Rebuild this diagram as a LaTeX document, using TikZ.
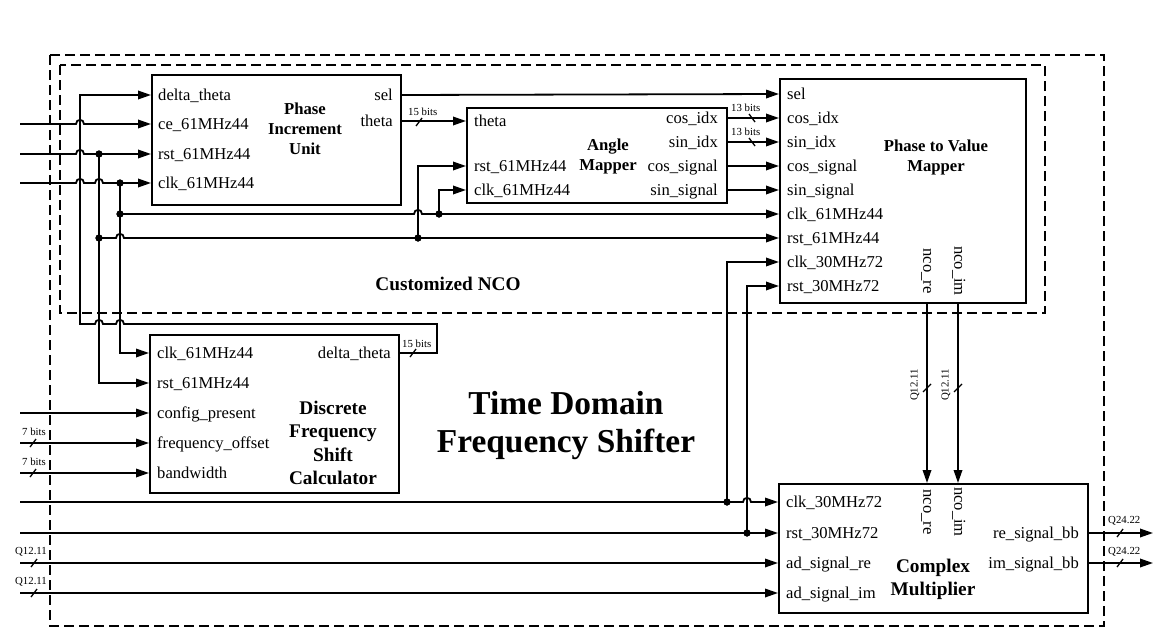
\documentclass[tikz,border=0pt]{standalone}
\usepackage{fontspec}
\setmainfont{Liberation Serif}
\usetikzlibrary{arrows.meta}
\begin{document}
\begin{tikzpicture}[x=1pt,y=-1pt,
  box/.style={draw, line width=2.1pt, anchor=north west, inner sep=0pt},
  sig/.style={line width=1.8pt, -{Triangle[length=13pt,width=8.5pt]}},
  wire/.style={line width=1.8pt},
  slash/.style={line width=1.3pt},
  port/.style={inner sep=0pt, font=\fontsize{16.6}{18}\selectfont, text height=11pt, text depth=1pt},
  pl/.style={port, anchor=west},
  pr/.style={port, anchor=east},
  prot/.style={inner sep=0pt, font=\fontsize{16.6}{18}\selectfont, text height=7.3pt, text depth=0pt, rotate=-90},
  ttl/.style={font=\fontsize{16.7}{20}\selectfont\bfseries, align=center, inner sep=0pt},
  ttlb/.style={font=\fontsize{19.3}{23.5}\selectfont\bfseries, align=center, inner sep=0pt},
  bits/.style={font=\fontsize{10.8}{12}\selectfont, inner sep=0pt, anchor=base west},
  jdot/.style={circle, fill, inner sep=0pt, minimum size=7pt},
  dashbox/.style={draw, line width=1.6pt, dash pattern=on 10pt off 5pt},
  hop/.style 2 args={insert path={-- ({#1-4},#2) .. controls ({#1-4},{#2-5.5}) and ({#1+4},{#2-5.5}) .. ({#1+4},#2)}},
  hopl/.style 2 args={insert path={-- ({#1+4},#2) .. controls ({#1+4},{#2-5.5}) and ({#1-4},{#2-5.5}) .. ({#1-4},#2)}},
]
\fill[white] (0,0) rectangle (1161,629);
\useasboundingbox (0,0) rectangle (1161,629);

% frames
\draw[dashbox] (50,55) rectangle (1104,626);
\draw[dashbox] (60,65) rectangle (1045,313);

% blocks
\node[box, minimum width=249pt, minimum height=130pt] (piu) at (151,74) {};
\node[box, minimum width=260pt, minimum height=95pt] (am) at (466,107) {};
\node[box, minimum width=246pt, minimum height=224pt] (pvm) at (779,78) {};
\node[box, minimum width=249pt, minimum height=158pt] (dfsc) at (149,334) {};
\node[box, minimum width=309pt, minimum height=129pt] (cm) at (778,483) {};

% PIU labels
\node[pl] (pdt) at (158,95) {delta\_theta};
\node[pl] (pce) at (158,124) {ce\_61MHz44};
\node[pl] (prst) at (158,154) {rst\_61MHz44};
\node[pl] (pclk) at (158,183) {clk\_61MHz44};
\node[pr] (psel) at (393,95) {sel};
\node[pr] (ptheta) at (393,121) {theta};
\node[ttl] (piut) at (305,129) {Phase\\Increment\\Unit};

% AM labels
\node[pl] (atheta) at (474,121) {theta};
\node[pl] (arst) at (474,166) {rst\_61MHz44};
\node[pl] (aclk) at (474,190) {clk\_61MHz44};
\node[pr] (acosidx) at (718,118) {cos\_idx};
\node[pr] (asinidx) at (718,142) {sin\_idx};
\node[pr] (acossig) at (718,166) {cos\_signal};
\node[pr] (asinsig) at (718,190) {sin\_signal};
\node[ttl] (amt) at (608,156) {Angle\\Mapper};

% PVM labels
\node[pl] (vsel) at (787,94) {sel};
\node[pl] (vcosidx) at (787,118) {cos\_idx};
\node[pl] (vsinidx) at (787,142) {sin\_idx};
\node[pl] (vcossig) at (787,166) {cos\_signal};
\node[pl] (vsinsig) at (787,190) {sin\_signal};
\node[pl] (vclk61) at (787,214) {clk\_61MHz44};
\node[pl] (vrst61) at (787,238) {rst\_61MHz44};
\node[pl] (vclk30) at (787,262) {clk\_30MHz72};
\node[pl] (vrst30) at (787,286) {rst\_30MHz72};
\node[prot] (vnre) at (927,271) {nco\_re};
\node[prot] (vnim) at (958,271) {nco\_im};
\node[ttl] (pvmt) at (936,157) {Phase to Value\\Mapper};

% DFSC labels
\node[pl] (dclk) at (157,353) {clk\_61MHz44};
\node[pl] (drst) at (157,383) {rst\_61MHz44};
\node[pl] (dcfg) at (157,413) {config\_present};
\node[pl] (dfo) at (157,443) {frequency\_offset};
\node[pl] (dbw) at (157,473) {bandwidth};
\node[pr] (ddt) at (391,353) {delta\_theta};
\node[ttlb] (dfsct) at (333,443) {Discrete\\Frequency\\Shift\\Calculator};

% CM labels
\node[pl] (cclk) at (786,502) {clk\_30MHz72};
\node[pl] (crst) at (786,533) {rst\_30MHz72};
\node[pl] (cadre) at (786,563) {ad\_signal\_re};
\node[pl] (cadim) at (786,593) {ad\_signal\_im};
\node[pr] (cre) at (1079,533) {re\_signal\_bb};
\node[pr] (cim) at (1079,563) {im\_signal\_bb};
\node[prot] (cnre) at (927,512) {nco\_re};
\node[prot] (cnim) at (958,512) {nco\_im};
\node[ttlb, font=\fontsize{19.3}{23}\selectfont\bfseries] (cmt) at (933,579) {Complex\\Multiplier};

% big titles
\node[ttlb] (nco) at (448,284) {Customized NCO};
\node[font=\fontsize{33.4}{38}\selectfont\bfseries, align=center, inner sep=0pt] (tdfs) at (566,426) {Time Domain\\Frequency Shifter};

% free ends and bends
\coordinate (i-ce) at (20,124);
\coordinate (i-rst) at (20,154);
\coordinate (i-clk) at (20,183);
\coordinate (i-cfg) at (20,413);
\coordinate (i-fo) at (20,443);
\coordinate (i-bw) at (20,473);
\coordinate (i-c30) at (20,502);
\coordinate (i-r30) at (20,533);
\coordinate (i-adre) at (20,563);
\coordinate (i-adim) at (20,593);
\coordinate (o-re) at (1153,533);
\coordinate (o-im) at (1153,563);
\coordinate (lp1) at (437,324);
\coordinate (lp2) at (80,324);

% junctions
\node[jdot] (jr0) at (99,154) {};
\node[jdot] (jr1) at (99,238) {};
\node[jdot] (jr2) at (418,238) {};
\node[jdot] (jc0) at (120,183) {};
\node[jdot] (jc1) at (120,214) {};
\node[jdot] (jc2) at (439,214) {};
\node[jdot] (j30c) at (727,502) {};
\node[jdot] (j30r) at (747,533) {};

% PIU inputs
\draw[sig] (i-ce) [hop={80}{124}] -- (piu.west |- pce);
\draw[sig] (i-rst) [hop={80}{154}] -- (piu.west |- prst);
\draw[sig] (i-clk) [hop={80}{183}] [hop={99}{183}] -- (piu.west |- pclk);

% rst distribution
\draw[sig] (jr0.center) -- (jr0.center |- drst) -- (dfsc.west |- drst);
\draw[sig] (jr1.center) [hop={120}{238}] -- (pvm.west |- vrst61);
\draw[sig] (jr2.center) -- (jr2.center |- arst) -- (am.west |- arst);

% clk distribution
\draw[sig] (jc0.center) -- (jc0.center |- dclk) -- (dfsc.west |- dclk);
\draw[sig] (jc1.center) [hop={418}{214}] -- (pvm.west |- vclk61);
\draw[sig] (jc2.center) -- (jc2.center |- aclk) -- (am.west |- aclk);

% delta_theta feedback
\draw[sig] (dfsc.east |- ddt) -- (lp1 |- ddt) -- (lp1) [hopl={120}{324}] [hopl={99}{324}] -- (lp2) -- (lp2 |- pdt) -- (piu.west |- pdt);

% PIU outputs
\draw[sig] (piu.east |- psel) -- (pvm.west |- vsel);
\draw[sig] (piu.east |- atheta) -- (am.west |- atheta);

% AM outputs
\draw[sig] (am.east |- vcosidx) -- (pvm.west |- vcosidx);
\draw[sig] (am.east |- vsinidx) -- (pvm.west |- vsinidx);
\draw[sig] (am.east |- vcossig) -- (pvm.west |- vcossig);
\draw[sig] (am.east |- vsinsig) -- (pvm.west |- vsinsig);

% DFSC inputs
\draw[sig] (i-cfg) -- (dfsc.west |- dcfg);
\draw[sig] (i-fo) -- (dfsc.west |- dfo);
\draw[sig] (i-bw) -- (dfsc.west |- dbw);

% 30 MHz clock/reset
\draw[sig] (i-c30) [hop={747}{502}] -- (cm.west |- cclk);
\draw[sig] (j30c.center) -- (j30c.center |- vclk30) -- (pvm.west |- vclk30);
\draw[sig] (i-r30) -- (cm.west |- crst);
\draw[sig] (j30r.center) -- (j30r.center |- vrst30) -- (pvm.west |- vrst30);

% ad signals
\draw[sig] (i-adre) -- (cm.west |- cadre);
\draw[sig] (i-adim) -- (cm.west |- cadim);

% nco
\draw[sig] (pvm.south -| vnre) -- (cm.north -| vnre);
\draw[sig] (pvm.south -| vnim) -- (cm.north -| vnim);

% outputs
\draw[sig] (cm.east |- cre) -- (o-re);
\draw[sig] (cm.east |- cim) -- (o-im);

% bus widths
\node[bits] (b1) at (408,115) {15 bits};
\draw[slash] (416,126) -- (422,118);
\node[bits] (b2) at (402,347) {15 bits};
\draw[slash] (410,357) -- (416,349);
\node[bits] (b3) at (731,111) {13 bits};
\draw[slash] (749,114) -- (755,122);
\node[bits] (b4) at (731,135) {13 bits};
\draw[slash] (749,138) -- (755,146);
\node[bits] (b5) at (22,435) {7 bits};
\draw[slash] (30,447) -- (36,439);
\node[bits] (b6) at (22,465) {7 bits};
\draw[slash] (30,477) -- (36,469);
\node[bits] (b7) at (15,554) {Q12.11};
\draw[slash] (31,567) -- (37,559);
\node[bits] (b8) at (15,584) {Q12.11};
\draw[slash] (31,597) -- (37,589);
\node[bits] (b9) at (1108,523) {Q24.22};
\draw[slash] (1117,537) -- (1123,529);
\node[bits] (b10) at (1108,554) {Q24.22};
\draw[slash] (1117,567) -- (1123,559);
\node[bits, anchor=center, rotate=90] (b11) at (915,385) {Q12.11};
\draw[slash] (923,392) -- (931,384);
\node[bits, anchor=center, rotate=90] (b12) at (946,385) {Q12.11};
\draw[slash] (954,392) -- (962,384);

% junction dots on top
\foreach \j in {jr0,jr1,jr2,jc0,jc1,jc2,j30c,j30r} \fill (\j.center) circle[radius=3.6pt];
\end{tikzpicture}
\end{document}
